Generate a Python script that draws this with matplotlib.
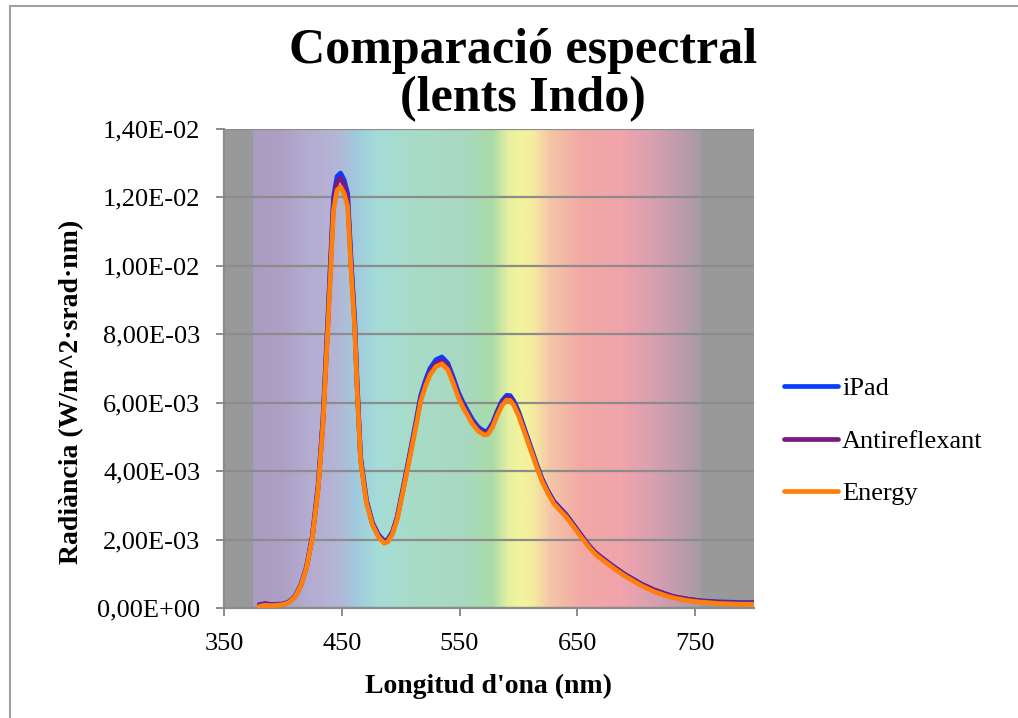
import numpy as np
import matplotlib
matplotlib.use("Agg")
import matplotlib.pyplot as plt
from matplotlib.colors import LinearSegmentedColormap
from matplotlib.ticker import FuncFormatter, MultipleLocator
from matplotlib.lines import Line2D

plt.rcParams["font.family"] = ["Liberation Serif", "DejaVu Serif"]

# wavelength (nm)
wavelength = [380, 385, 390, 395, 400, 405, 410, 415, 420, 425, 430, 434, 438, 440,
              443, 446, 449, 452, 455, 458, 461, 463, 466, 471, 476, 481, 486, 489,
              493, 497, 502, 508, 513, 517, 521, 525, 530, 535, 540, 545, 549, 553,
              557, 561, 566, 571, 574, 578, 582, 586, 590, 593, 596, 600, 604, 608,
              612, 616, 620, 625, 630, 635, 640, 645, 650, 655, 660, 665, 670, 675,
              680, 685, 690, 695, 700, 705, 710, 715, 720, 725, 730, 735, 740, 745,
              750, 755, 760, 770, 780, 790, 800]

ipad = [0.00010, 0.00013, 0.00010, 0.00011, 0.00012, 0.00018, 0.00033, 0.00065, 0.00120, 0.00210,
        0.00360, 0.00550, 0.00830, 0.00980, 0.01200, 0.01260, 0.01270, 0.01250, 0.01210, 0.01010,
        0.00840, 0.00660, 0.00440, 0.00315, 0.00250, 0.00215, 0.00196, 0.00200, 0.00222, 0.00266,
        0.00350, 0.00455, 0.00545, 0.00620, 0.00665, 0.00700, 0.00725, 0.00733, 0.00715, 0.00670,
        0.00630, 0.00600, 0.00575, 0.00550, 0.00528, 0.00516, 0.00518, 0.00540, 0.00575, 0.00605,
        0.00621, 0.00620, 0.00605, 0.00575, 0.00535, 0.00495, 0.00455, 0.00415, 0.00378, 0.00342,
        0.00312, 0.00293, 0.00275, 0.00252, 0.00228, 0.00205, 0.00182, 0.00163, 0.00149, 0.00136,
        0.00123, 0.00111, 0.00099, 0.00089, 0.00079, 0.00069, 0.00061, 0.00053, 0.00047, 0.00041,
        0.00035, 0.00031, 0.00028, 0.00025, 0.00023, 0.00021, 0.00020, 0.00018, 0.00017, 0.00016,
        0.00016]

antireflexant = [0.00009, 0.00012, 0.00009, 0.00010, 0.00011, 0.00017, 0.00032, 0.00064, 0.00118, 0.00207,
                 0.00355, 0.00542, 0.00818, 0.00966, 0.01183, 0.01245, 0.01255, 0.01235, 0.01195, 0.00997,
                 0.00830, 0.00652, 0.00435, 0.00311, 0.00247, 0.00212, 0.00193, 0.00197, 0.00219, 0.00262,
                 0.00345, 0.00449, 0.00537, 0.00611, 0.00655, 0.00690, 0.00714, 0.00722, 0.00705, 0.00661,
                 0.00621, 0.00592, 0.00567, 0.00543, 0.00521, 0.00510, 0.00512, 0.00533, 0.00568, 0.00597,
                 0.00613, 0.00612, 0.00598, 0.00568, 0.00529, 0.00490, 0.00450, 0.00411, 0.00374, 0.00339,
                 0.00309, 0.00290, 0.00272, 0.00250, 0.00226, 0.00203, 0.00181, 0.00162, 0.00148, 0.00135,
                 0.00122, 0.00110, 0.00098, 0.00088, 0.00078, 0.00068, 0.00061, 0.00053, 0.00047, 0.00041,
                 0.00035, 0.00031, 0.00028, 0.00025, 0.00023, 0.00020, 0.00019, 0.00016, 0.00015, 0.00014,
                 0.00014]

energy = [0.00005, 0.00008, 0.00007, 0.00008, 0.00010, 0.00016, 0.00031, 0.00062, 0.00116, 0.00203,
          0.00348, 0.00532, 0.00803, 0.00945, 0.01160, 0.01220, 0.01230, 0.01210, 0.01172, 0.00978,
          0.00815, 0.00641, 0.00428, 0.00306, 0.00243, 0.00208, 0.00189, 0.00193, 0.00215, 0.00258,
          0.00340, 0.00443, 0.00530, 0.00603, 0.00647, 0.00681, 0.00705, 0.00713, 0.00696, 0.00653,
          0.00614, 0.00585, 0.00561, 0.00537, 0.00516, 0.00505, 0.00507, 0.00528, 0.00562, 0.00591,
          0.00607, 0.00606, 0.00592, 0.00563, 0.00524, 0.00485, 0.00446, 0.00407, 0.00370, 0.00335,
          0.00305, 0.00286, 0.00268, 0.00246, 0.00222, 0.00199, 0.00177, 0.00158, 0.00144, 0.00131,
          0.00118, 0.00106, 0.00094, 0.00084, 0.00074, 0.00064, 0.00056, 0.00048, 0.00042, 0.00036,
          0.00031, 0.00027, 0.00024, 0.00021, 0.00019, 0.00017, 0.00016, 0.00013, 0.00012, 0.00011,
          0.00011]

series_names = ["iPad", "Antireflexant", "Energy"]
series_colors = ["#0a3cff", "#7a1a7e", "#ff7f0a"]

# visible-spectrum backdrop (nm, colour)
spectrum_stops = [
    (375, "#ab9cc2"), (400, "#ae9fc5"), (420, "#b3acd0"), (440, "#b6b2d4"),
    (452, "#afbcd8"), (460, "#a0c8de"), (480, "#a4dcd8"), (510, "#a8dcc8"),
    (555, "#a8d8c0"), (578, "#a8dca8"), (592, "#e8f0a0"), (603, "#f4f49c"),
    (613, "#f4ec9e"), (628, "#f4c4a8"), (655, "#f2a8a4"), (688, "#f0a4ac"),
    (715, "#d8a0b0"), (740, "#bc9cac"), (755, "#a89aa4"),
]
spec_lo, spec_hi = spectrum_stops[0][0], spectrum_stops[-1][0]
cmap = LinearSegmentedColormap.from_list(
    "vis", [((w - spec_lo) / (spec_hi - spec_lo), c) for w, c in spectrum_stops])

fig = plt.figure(figsize=(10.18, 7.18), dpi=100)
ax = fig.add_axes([0.220, 0.1532, 0.5207, 0.6678])
ax.set_facecolor("#999999")

ax.imshow(np.linspace(0, 1, 512)[None, :], cmap=cmap, aspect="auto",
          extent=(spec_lo, spec_hi, 0, 0.014), zorder=0, interpolation="bilinear")

for name, vals, col in zip(series_names, [ipad, antireflexant, energy], series_colors):
    ax.plot(wavelength, vals, color=col, lw=3.4, label=name, zorder=3,
            solid_capstyle="round", solid_joinstyle="round")

ax.set_xlim(350, 800)
ax.set_ylim(0, 0.014)
ax.set_xticks([350, 450, 550, 650, 750])
ax.yaxis.set_major_locator(MultipleLocator(0.002))
ax.yaxis.set_major_formatter(FuncFormatter(lambda v, p: f"{v:.2E}".replace(".", ",")))

ax.set_axisbelow(False)
ax.grid(axis="y", color="#8c8c8c", lw=1.6)
ax.grid(axis="x", visible=False)
for s in ["top", "right"]:
    ax.spines[s].set_visible(False)
for s in ["left", "bottom"]:
    ax.spines[s].set_color("#8c8c8c")
    ax.spines[s].set_linewidth(1.6)
ax.tick_params(axis="both", colors="#8c8c8c", labelcolor="black", labelsize=19,
               length=6, width=1.4, direction="out")
ax.tick_params(axis="y", pad=11)
ax.tick_params(axis="x", pad=12)

ax.set_xlabel("Longitud d'ona (nm)", fontsize=20, fontweight="bold")
ax.xaxis.label.set_va("center")
ax.xaxis.set_label_coords(0.5, -0.164)
ax.set_ylabel("Radiància (W/m^2·srad·nm)", fontsize=20, fontweight="bold")
ax.yaxis.label.set_va("center")
ax.yaxis.set_label_coords(-0.288, 0.45)

fig.text(523 / 1018, 1 - 75 / 718, "Comparació espectral\n(lents Indo)",
         ha="center", va="center", fontsize=36, fontweight="bold", linespacing=1.05)

ax.legend(loc="center left", bbox_to_anchor=(784 / 1018, 1 - 441 / 718),
          bbox_transform=fig.transFigure, frameon=False, fontsize=19,
          handlelength=2.05, handletextpad=0.15, labelspacing=1.1,
          borderpad=0, borderaxespad=0)

# outer chart frame (top and left edges visible)
fig.add_artist(Line2D([10 / 1018, 1], [1 - 6 / 718, 1 - 6 / 718], color="#a0a0a0", lw=1.5,
                      transform=fig.transFigure))
fig.add_artist(Line2D([10 / 1018, 10 / 1018], [0, 1 - 6 / 718], color="#a0a0a0", lw=1.5,
                      transform=fig.transFigure))

fig.savefig("out.png", dpi=100)
